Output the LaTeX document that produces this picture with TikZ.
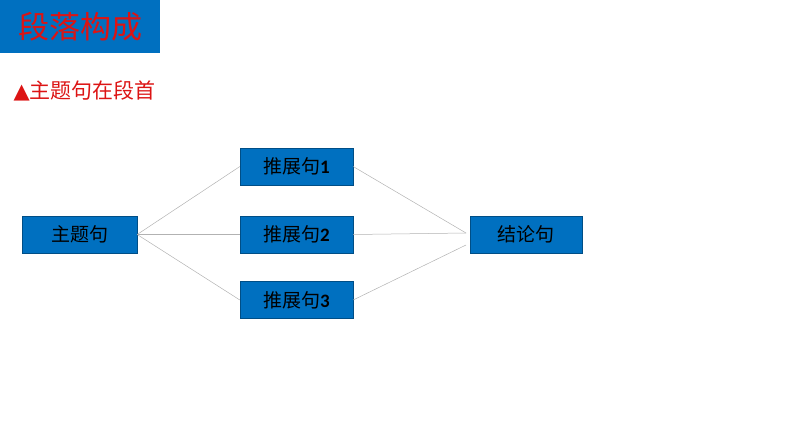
\documentclass[tikz,border=0pt]{standalone}
\usepackage{fontspec}
\newfontfamily\cjk{Noto Sans CJK SC}
\newfontfamily\carl{Carlito}
\definecolor{boxblue}{RGB}{0,112,192}
\definecolor{ttlred}{RGB}{220,20,20}
\begin{document}
\begin{tikzpicture}[x=1pt,y=-1pt,
  bx/.style={fill=boxblue,draw=boxblue!70!black,line width=0.3pt,minimum height=37pt,inner sep=0pt,font=\cjk\fontsize{19}{22}\selectfont,text=black},
  ln/.style={draw=gray!60,line width=0.5pt}]
\useasboundingbox (0,0) rectangle (794,447);
\node[fill=boxblue,minimum width=160pt,minimum height=53pt,inner sep=0pt,anchor=north west,font=\cjk\fontsize{31}{36}\selectfont,text=ttlred] (t) at (0,0) {段落构成};
\node[anchor=west,font=\cjk\fontsize{21}{24}\selectfont,text=ttlred] (s) at (10,91) {\fontspec{DejaVu Sans}▲\cjk 主题句在段首};
\node[bx,minimum width=115pt] (a) at (79.5,234.5) {主题句};
\node[bx,minimum width=113pt] (b1) at (296.5,166.5) {推展句{\carl\bfseries 1}};
\node[bx,minimum width=113pt] (b2) at (296.5,234.5) {推展句{\carl\bfseries 2}};
\node[bx,minimum width=113pt] (b3) at (296.5,300) {推展句{\carl\bfseries 3}};
\node[bx,minimum width=112pt] (c) at (526,234.5) {结论句};
\coordinate (c1) at (466,233);
\coordinate (c3) at (466,245);
\draw[ln] (a.east) -- (b1.west);
\draw[ln] (a.east) -- (b2.west);
\draw[ln] (a.east) -- (b3.west);
\draw[ln] (b1.east) -- (c1);
\draw[ln] (b2.east) -- (c1);
\draw[ln] (b3.east) -- (c3);
\end{tikzpicture}
\end{document}
